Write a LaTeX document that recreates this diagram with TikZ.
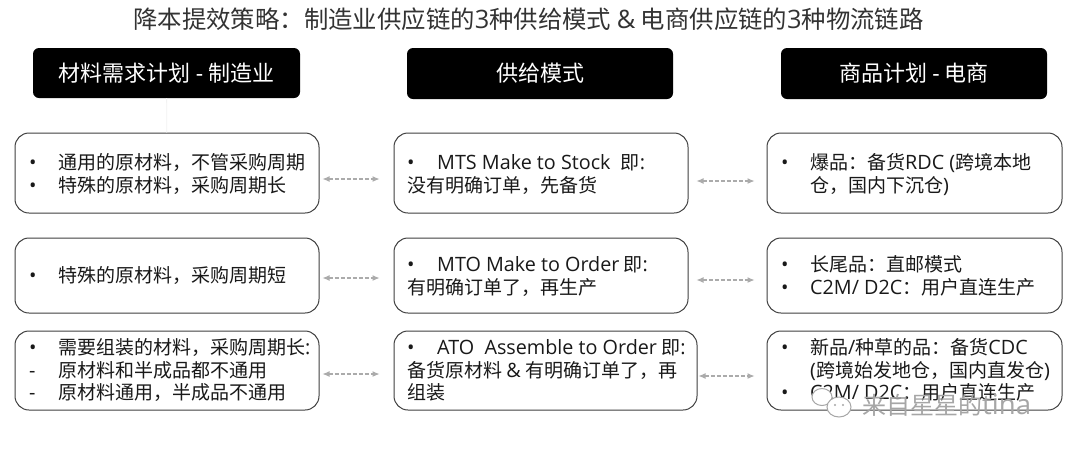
\documentclass[tikz,border=0pt]{standalone}
\usepackage{fontspec}
\setmainfont{Noto Sans CJK SC}
\newfontfamily\lat[Scale=1.04]{Open Sans}
\usetikzlibrary{arrows.meta,calc}
\definecolor{edge}{HTML}{404040}
\definecolor{arrowgray}{HTML}{ABABAB}
\definecolor{faint}{HTML}{F2F2F2}
\definecolor{wm}{HTML}{A6A6A6}
\tikzset{
  x=1pt,y=-1pt,
  headbox/.style={draw=none,fill=black,rounded corners=6pt,inner sep=0pt},
  card/.style={draw=edge,fill=white,line width=1pt,rounded corners=14pt,inner sep=0pt},
  hlabel/.style={text=white,font=\fontsize{22}{22}\selectfont,inner sep=0pt},
  titletext/.style={text=black!80,font=\fontsize{24.4}{24.4}\selectfont,inner sep=0pt,anchor=base},
  linetext/.style={text=black!90,font=\fontsize{19}{19}\selectfont,inner sep=0pt,anchor=base west},
  lnk/.style={draw=arrowgray,line width=1.1pt,dash pattern=on 4pt off 2pt,{Latex[length=7pt,width=6pt]}-{Latex[length=7pt,width=6pt]}},
  stem/.style={draw=faint,line width=.8pt},
  wmark/.style={text=wm,font=\fontsize{24}{24}\selectfont,inner sep=0pt,anchor=base west},
  wicon/.style={draw=wm,fill=white,line width=1pt},
}
\newcommand{\boxat}[6]{\node[#1,minimum width=#4-#2,minimum height=#5-#3] (#6) at ({(#2+#4)/2},{(#3+#5)/2}) {};}
\newcommand{\dotb}{{\lat •}}
\begin{document}
\begin{tikzpicture}
\useasboundingbox (0,0) rectangle (1080,451);
\fill[white] (0,0) rectangle (1080,451);
\node[titletext] (T) at (528.5,28) {降本提效策略：制造业供应链的{\lat 3}种供给模式 {\lat \&} 电商供应链的{\lat 3}种物流链路};

\boxat{headbox}{33}{48}{300}{98}{H1}
\boxat{headbox}{407}{48}{673}{99}{H2}
\boxat{headbox}{781}{48}{1047}{99}{H3}
\node[hlabel] at (H1) {材料需求计划 {\lat -} 制造业};
\node[hlabel] at (H2) {供给模式};
\node[hlabel] at (H3) {商品计划 {\lat -} 电商};

\boxat{card}{15}{133}{319}{213}{A1}
\boxat{card}{394}{133}{688}{213}{B1}
\boxat{card}{767}{133}{1062}{213}{C1}
\boxat{card}{15}{238}{319}{313}{A2}
\boxat{card}{394}{238}{688}{313}{B2}
\boxat{card}{767}{238}{1062}{313}{C2}
\boxat{card}{15}{331}{319}{410}{A3}
\boxat{card}{394}{331}{697}{410}{B3}
\boxat{card}{767}{331}{1062}{410}{C3}

\draw[stem] (H1) -- (A1);

% column A
\node[linetext] at (29,169) {\dotb}; \node[linetext] at (58,169) {通用的原材料，不管采购周期};
\node[linetext] at (29,192) {\dotb}; \node[linetext] at (58,192) {特殊的原材料，采购周期长};
\node[linetext] at (29,282) {\dotb}; \node[linetext] at (58,282) {特殊的原材料，采购周期短};
\node[linetext] at (29,354) {\dotb}; \node[linetext] at (58,354) {需要组装的材料，采购周期长{\lat :}};
\node[linetext] at (29,377) {{\lat -}}; \node[linetext] at (58,377) {原材料和半成品都不通用};
\node[linetext] at (29,399) {{\lat -}}; \node[linetext] at (58,399) {原材料通用，半成品不通用};
% column B
\node[linetext] at (407,169) {\dotb}; \node[linetext] at (437,169) {{\lat MTS Make to Stock\ \ }即{\lat :}};
\node[linetext] at (407,192) {没有明确订单，先备货};
\node[linetext] at (407,271) {\dotb}; \node[linetext] at (437,271) {{\lat MTO Make to Order} 即{\lat :}};
\node[linetext] at (407,294) {有明确订单了，再生产};
\node[linetext] at (407,354) {\dotb}; \node[linetext] at (437,354) {{\lat ATO\ \ Assemble to Order} 即{\lat :}};
\node[linetext] at (407,377) {备货原材料 {\lat \&} 有明确订单了，再};
\node[linetext] at (407,399) {组装};
% column C
\node[linetext] at (781,169) {\dotb}; \node[linetext] at (810,169) {爆品：备货{\lat RDC (}跨境本地};
\node[linetext] at (810,192) {仓，国内下沉仓{\lat )}};
\node[linetext] at (781,271) {\dotb}; \node[linetext] at (810,271) {长尾品：直邮模式};
\node[linetext] at (781,294) {\dotb}; \node[linetext] at (810,294) {{\lat C2M/ D2C}：用户直连生产};
\node[linetext] at (781,354) {\dotb}; \node[linetext] at (810,354) {新品{\lat /}种草的品：备货{\lat CDC}};
\node[linetext] at (810,377) {{\lat (}跨境始发地仓，国内直发仓{\lat )}};
\node[linetext] at (781,399) {\dotb}; \node[linetext] at (810,399) {{\lat C2M/ D2C}：用户直连生产};

% connectors
\coordinate (a1) at ($(A1.east)+(3,6)$); \coordinate (b1) at ($(B1.west)+(-14,6)$);
\coordinate (a2) at ($(A2.east)+(3,2.5)$); \coordinate (b2) at ($(B2.west)+(-14,2.5)$);
\coordinate (a3) at ($(A3.east)+(3,3.5)$); \coordinate (b3) at ($(B3.west)+(-14,3.5)$);
\coordinate (p1) at ($(B1.east)+(8,8)$); \coordinate (c1) at ($(C1.west)+(-12,8)$);
\coordinate (p2) at ($(B2.east)+(8,4.5)$); \coordinate (c2) at ($(C2.west)+(-12,4.5)$);
\coordinate (p3) at ($(B3.east)+(1,5.5)$); \coordinate (c3) at ($(C3.west)+(-12,5.5)$);
\draw[lnk] (a1) -- (b1);
\draw[lnk] (a2) -- (b2);
\draw[lnk] (a3) -- (b3);
\draw[lnk] (p1) -- (c1);
\draw[lnk] (p2) -- (c2);
\draw[lnk] (p3) -- (c3);

% watermark
\draw[wicon] (822,397) ellipse (10 and 8.5);
\draw[wicon] (839,407) ellipse (12 and 10);
\fill[wm] (835,405) circle (1.2) (843,405) circle (1.2);
\node[wmark] (W) at (862,414) {来自星星的{\lat\fontsize{26.5}{26.5}\selectfont tina}};
\end{tikzpicture}
\end{document}
